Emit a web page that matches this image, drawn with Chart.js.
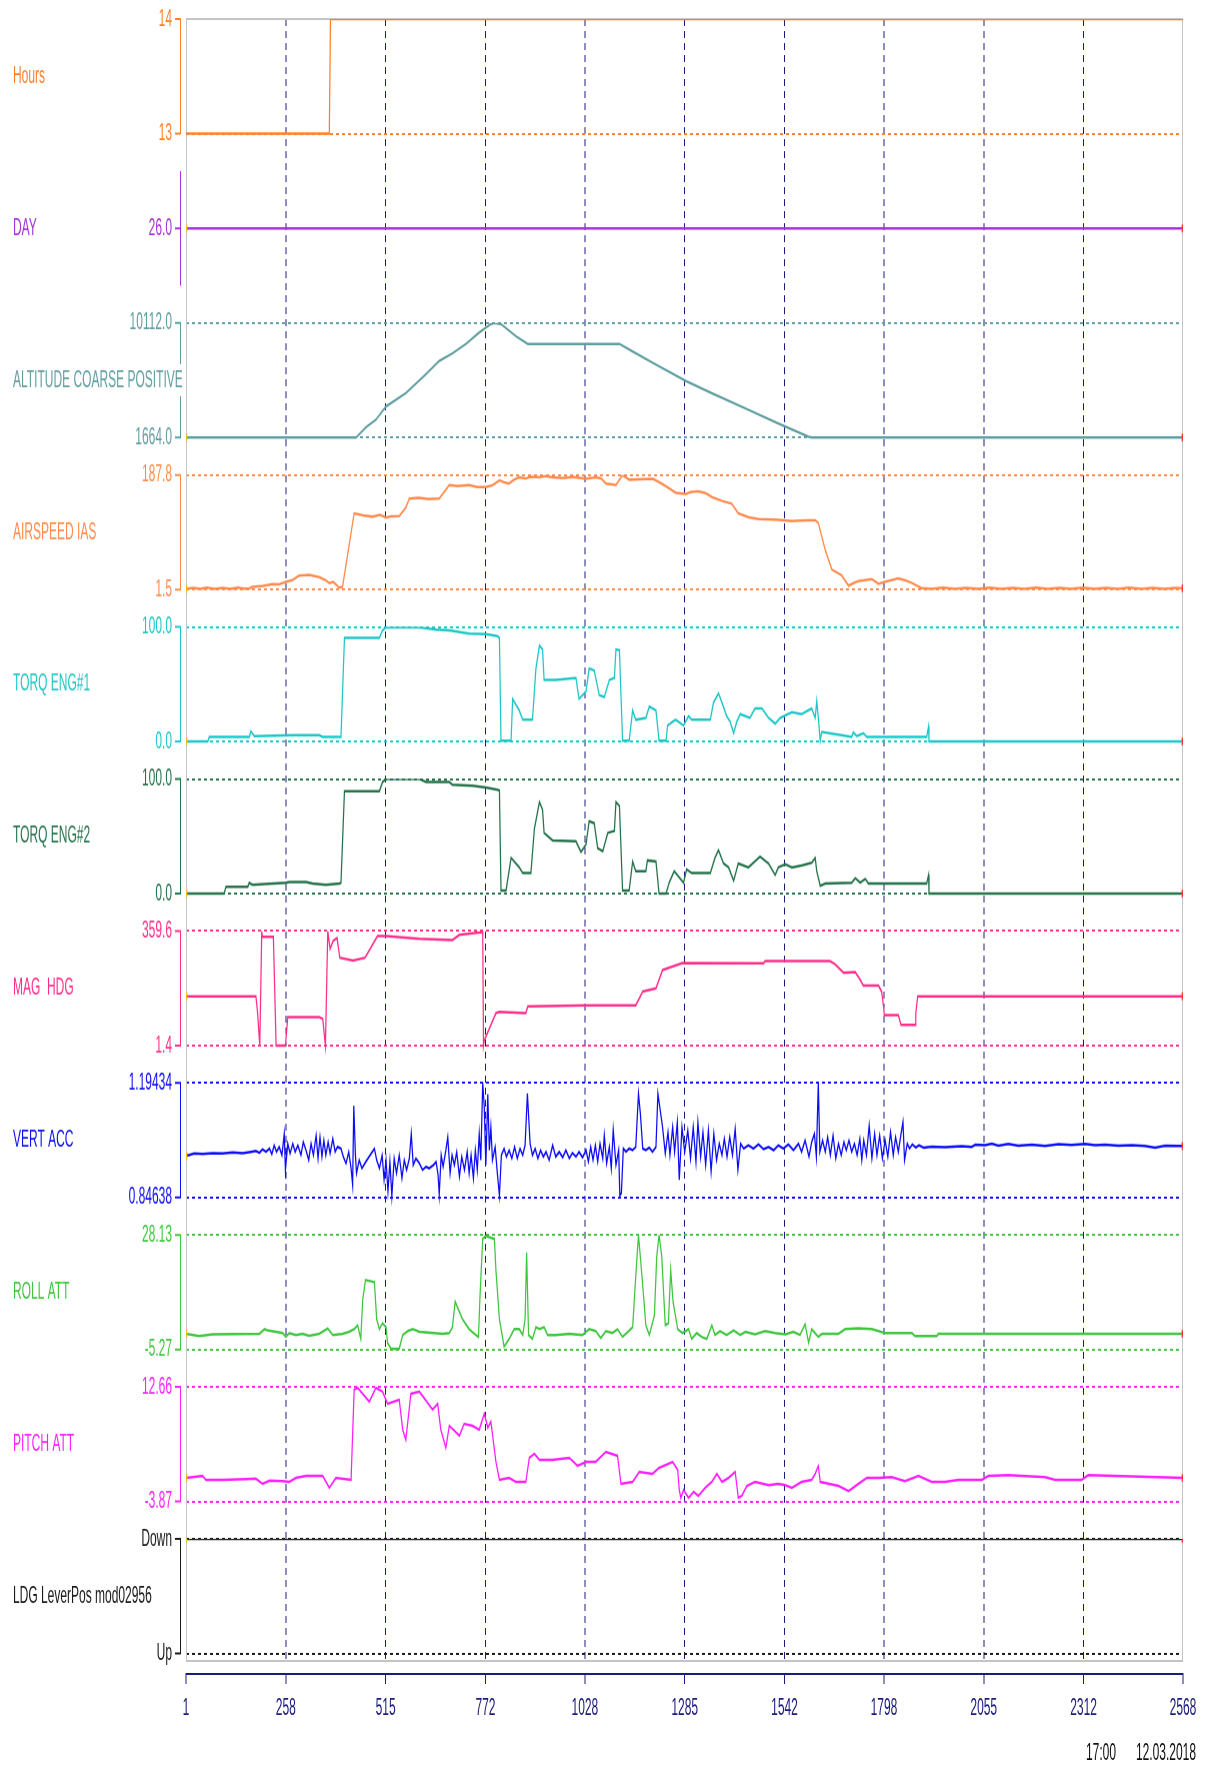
<!DOCTYPE html>
<html>
<head>
<meta charset="utf-8">
<title>Flight data</title>
<script src="https://cdn.jsdelivr.net/npm/chart.js@4.4.1/dist/chart.umd.min.js"></script>
<style>
  html, body { margin: 0; padding: 0; background: #fff; }
  body { height: 1765px; }
  /* the source picture is stretched 2x vertically, so is this one */
  #wrap { width: 1212px; height: 882.5px; transform: scaleY(2); transform-origin: 0 0; }
</style>
</head>
<body>
<div id="wrap"><canvas id="flightChart"></canvas></div>
<script>
// sample index axis
const xTickValues = [1, 258, 515, 772, 1028, 1285, 1542, 1798, 2055, 2312, 2568];

// panels, top to bottom
const seriesNames = ["Hours", "DAY", "ALTITUDE COARSE POSITIVE", "AIRSPEED IAS", "TORQ ENG#1", "TORQ ENG#2",
  "MAG  HDG", "VERT ACC", "ROLL ATT", "PITCH ATT", "LDG LeverPos mod02956"];
const seriesColors = ["#ff7f27", "#a333d6", "#5f9ea0", "#ff8a4c", "#1fc6c6", "#23724a",
  "#ff2d8a", "#0c0cf5", "#3ec63e", "#fb1ffb", "#1a1a1a"];
const tickValues = [[13, 14], [26], [1664, 10112], [1.5, 187.8], [0, 100], [0, 100],
  [1.4, 359.6], [0.84638, 1.19434], [-5.27, 28.13], [-3.87, 12.66], [0, 1]];
const tickLabels = [["13", "14"], ["26.0"], ["1664.0", "10112.0"], ["1.5", "187.8"], ["0.0", "100.0"], ["0.0", "100.0"],
  ["1.4", "359.6"], ["0.84638", "1.19434"], ["-5.27", "28.13"], ["-3.87", "12.66"], ["Up", "Down"]];
// value at top / bottom of each panel bracket
const panelTop = [14, 26.5, 10112.0, 187.8, 100, 100, 359.6, 1.19434, 28.13, 12.66, 1];
const panelBottom = [13, 25.5, 1664.0, 1.5, 0, 0, 1.4, 0.84638, -5.27, -3.87, 0];

// series as [sample, value]
const hours = [[1, 13], [370, 13], [373, 14], [2568, 14]];
const day = [[1, 26], [2568, 26]];
const altitude = [[1, 1664], [439, 1664], [464, 2419], [490, 2979], [516, 3958], [567, 4937], [619, 6335],
  [653, 7314], [687, 7873], [722, 8573], [756, 9412], [786, 10028], [795, 10112], [812, 10028], [851, 9132],
  [881, 8573], [1117, 8573], [1151, 8013], [1203, 7174], [1288, 5832], [1355, 4937], [1441, 3818],
  [1526, 2699], [1604, 1720], [1612, 1664], [2568, 1664]];
const airspeed = [[1, 2.8], [20, 4.2], [38, 2.6], [55, 4.6], [75, 2.5], [95, 4.4], [115, 2.7], [135, 4.8],
  [150, 2.9], [164, 3.5], [172, 5.9], [200, 7.5], [223, 10.3], [240, 9.8], [258, 14.1], [275, 17], [292, 24.2],
  [318, 25.4], [344, 21.6], [360, 17], [370, 12.2], [380, 14], [390, 8], [395, 4.6], [404, 5.9], [434, 125.5],
  [445, 124], [456, 122.3], [480, 120], [500, 123], [516, 118.6], [530, 120.5], [550, 121.1], [567, 134.9],
  [576, 149.4], [600, 150.5], [625, 148.5], [653, 149.4], [679, 171.4], [700, 170], [730, 171.5], [750, 168.3],
  [773, 168.3], [790, 171], [808, 179], [820, 176], [833, 174], [845, 180], [859, 184], [875, 182], [890, 185],
  [911, 184], [925, 186], [945, 184], [970, 183], [1000, 184.5], [1031, 181.5], [1056, 184], [1070, 182],
  [1082, 174], [1108, 171.4], [1125, 187.8], [1142, 180.2], [1170, 181], [1203, 181.5], [1220, 176],
  [1237, 169.5], [1262, 158.9], [1288, 157], [1300, 160], [1320, 161.4], [1340, 158], [1355, 151.9],
  [1381, 145.6], [1406, 141.2], [1423, 125.5], [1450, 119], [1475, 116], [1526, 114.8], [1560, 113],
  [1600, 114], [1621, 114.2], [1629, 109.8], [1647, 65.7], [1664, 34.2], [1689, 24.8], [1707, 7.8], [1720, 12],
  [1732, 15.3], [1767, 18.5], [1784, 10.9], [1800, 14], [1835, 19.8], [1855, 16], [1870, 12.2], [1895, 4],
  [1920, 2.5], [1950, 4.5], [1980, 2.6], [2010, 4.4], [2040, 2.5], [2070, 4.6], [2100, 2.7], [2130, 4.3],
  [2160, 2.5], [2190, 4.5], [2220, 2.8], [2250, 4.4], [2280, 2.6], [2310, 4.6], [2340, 2.7], [2370, 4.3],
  [2400, 2.5], [2430, 4.5], [2460, 2.7], [2490, 4.4], [2520, 2.6], [2550, 4.2], [2568, 3.5]];
const torq1 = [[1, 0], [57, 0], [61, 4], [164, 4], [168, 9], [177, 4.7], [276, 5.6], [344, 5.6], [353, 4],
  [400, 4], [409, 90.4], [499, 90.4], [507, 97], [516, 99.7], [602, 99.7], [645, 97.7], [679, 97], [730, 94.3],
  [773, 93.7], [803, 92], [808, 90.4], [812, 0.7], [838, 0.7], [842, 37.2], [859, 27.2], [868, 19], [893, 19],
  [902, 63.8], [911, 83.7], [919, 80.4], [923, 53.8], [953, 53.8], [1005, 55.5], [1013, 37.2], [1031, 43.9],
  [1039, 63.8], [1052, 62.1], [1065, 40.5], [1078, 38.9], [1091, 53.8], [1104, 55.5], [1108, 80.4],
  [1117, 79.7], [1125, 0.7], [1142, 0.7], [1151, 27.2], [1159, 19], [1185, 20.6], [1194, 30.6], [1211, 27.2],
  [1219, 0.7], [1237, 0.7], [1241, 14], [1254, 17.3], [1262, 19], [1282, 14], [1295, 22.3], [1303, 19],
  [1351, 19], [1359, 33.9], [1372, 42.2], [1381, 33.9], [1393, 22.3], [1402, 17.3], [1411, 7.3], [1419, 17.3],
  [1428, 23.9], [1453, 20.6], [1466, 28.9], [1484, 28.9], [1501, 20.6], [1518, 15.6], [1531, 20.6],
  [1561, 25.6], [1586, 23.9], [1612, 28.9], [1621, 20.6], [1625, 35.5], [1629, 20.6], [1634, 0.7], [1638, 8.3],
  [1689, 5.6], [1715, 4], [1719, 8], [1728, 4.7], [1745, 7.3], [1754, 4], [1908, 4], [1913, 13.3], [1914, 0],
  [2568, 0]];
const torq2 = [[1, 0], [99, 0], [104, 6], [160, 6], [164, 9.4], [172, 7.7], [258, 9.4], [267, 10.1],
  [310, 10.1], [327, 8.7], [361, 7.7], [396, 8.7], [400, 9.4], [409, 89.3], [499, 89.3], [507, 97.3], [516, 100],
  [602, 100], [619, 97.3], [679, 97.3], [687, 95], [739, 94], [773, 92.6], [803, 90.6], [808, 90], [812, 2.7],
  [825, 2.7], [838, 31.2], [859, 22.8], [868, 17.8], [889, 17.8], [898, 56.4], [911, 79.9], [919, 73.2],
  [923, 53], [945, 46.3], [1005, 45.6], [1018, 36.2], [1031, 42.9], [1039, 63.1], [1052, 61.4], [1061, 39.6],
  [1074, 36.9], [1087, 53], [1104, 54.7], [1108, 79.9], [1117, 76.5], [1125, 2.7], [1142, 2.7], [1151, 27.9],
  [1159, 19.5], [1185, 19.5], [1189, 28.9], [1211, 27.9], [1219, 0], [1237, 0], [1245, 9.4], [1258, 19.5],
  [1282, 9.4], [1290, 21.1], [1303, 17.8], [1351, 17.8], [1363, 31.2], [1372, 37.9], [1385, 26.2], [1398, 22.8],
  [1411, 11.1], [1423, 26.2], [1449, 22.8], [1479, 32.2], [1501, 26.2], [1518, 16.1], [1526, 22.8],
  [1544, 25.5], [1561, 22.8], [1586, 24.5], [1612, 26.8], [1621, 31.2], [1625, 19.5], [1634, 6.7], [1647, 8.7],
  [1715, 9.4], [1724, 13.4], [1737, 9.4], [1750, 12.8], [1758, 8.7], [1908, 8.7], [1913, 16.1], [1914, 0],
  [2568, 0]];
const magHdg = [[1, 155.4], [181, 155.4], [185, 109], [191, 1.4], [196, 356], [198, 341.3], [226, 341.3],
  [233, 1.4], [257, 1.4], [263, 90.6], [344, 90.6], [353, 84.5], [360, 1.4], [366, 359.6], [372, 304],
  [380, 328.7], [390, 338], [397, 276], [431, 267], [462, 276], [494, 343.7], [516, 343.7], [602, 335.1],
  [687, 331.5], [705, 347.4], [765, 356], [767, 1.4], [769, 17.3], [799, 102.9], [808, 106.5], [876, 102.9],
  [881, 123.7], [1031, 127.3], [1159, 127.3], [1177, 170.1], [1211, 179.9], [1228, 237.3], [1279, 259.4],
  [1488, 258.1], [1492, 265.5], [1659, 265.5], [1672, 255.7], [1694, 228.8], [1724, 231.3], [1737, 206.8],
  [1745, 188.4], [1784, 188.4], [1792, 170.1], [1797, 124.1], [1799, 96.8], [1835, 96.8], [1842, 66.2],
  [1878, 66.2], [1880, 102.9], [1885, 155.4], [2568, 155.4]];
const vertAcc = [[1, 0.973], [10, 0.976], [22, 0.980], [44, 0.979], [70, 0.981], [95, 0.980], [121, 0.983],
  [147, 0.981], [168, 0.985], [181, 0.988], [190, 0.982], [198, 0.993], [207, 0.985], [216, 0.995], [222, 0.978],
  [228, 1.005], [234, 0.985], [241, 1.000], [248, 0.975], [254, 1.040], [257, 0.930], [263, 1.010], [269, 0.980],
  [276, 1.010], [282, 0.985], [289, 1.005], [297, 0.975], [303, 1.015], [310, 0.990], [317, 0.960], [323, 1.010],
  [329, 0.975], [336, 1.035], [341, 0.965], [346, 1.030], [351, 0.970], [356, 1.020], [361, 0.975], [367, 1.015],
  [372, 0.980], [379, 1.025], [385, 0.985], [391, 1.000], [400, 0.995], [406, 0.970], [413, 0.950], [420, 0.985],
  [426, 0.935], [430, 0.885], [433, 1.125], [437, 0.980], [440, 0.920], [447, 0.960], [454, 0.935], [464, 0.955],
  [475, 0.975], [486, 0.995], [492, 0.960], [499, 0.935], [506, 0.975], [511, 0.900], [516, 0.960], [521, 0.865],
  [526, 0.955], [531, 0.850], [537, 0.965], [543, 0.920], [550, 0.975], [557, 0.905], [563, 0.960], [569, 0.930],
  [576, 0.965], [581, 1.040], [586, 0.945], [593, 0.965], [602, 0.950], [610, 0.930], [619, 0.940], [627, 0.935],
  [638, 0.945], [645, 0.955], [650, 0.915], [653, 0.855], [658, 0.975], [663, 0.940], [670, 0.990], [675, 1.030],
  [681, 0.920], [686, 0.975], [692, 0.945], [698, 0.985], [705, 0.910], [711, 0.970], [718, 0.930], [725, 0.985],
  [730, 0.920], [735, 0.975], [741, 0.905], [746, 0.990], [751, 0.930], [756, 1.040], [760, 0.960], [765, 1.194],
  [769, 1.120], [773, 0.945], [778, 1.160], [782, 0.990], [786, 1.060], [790, 0.960], [797, 1.000], [803, 0.915],
  [808, 0.852], [813, 0.975], [820, 0.995], [826, 0.970], [833, 0.990], [840, 0.965], [847, 1.000], [854, 0.965],
  [861, 0.995], [868, 0.975], [874, 1.005], [880, 1.162], [887, 1.010], [893, 0.975], [900, 0.995], [907, 0.965],
  [914, 0.990], [921, 0.970], [928, 0.985], [936, 0.960], [945, 1.005], [953, 0.970], [962, 0.985], [971, 0.968],
  [979, 0.990], [988, 0.965], [996, 0.982], [1005, 0.970], [1013, 0.985], [1022, 0.968], [1031, 0.990],
  [1037, 0.955], [1043, 1.000], [1049, 0.960], [1055, 1.005], [1061, 0.955], [1067, 1.010], [1074, 0.965],
  [1078, 1.035], [1084, 0.950], [1091, 1.000], [1096, 0.935], [1101, 1.052], [1108, 0.945], [1115, 0.990],
  [1118, 0.852], [1122, 0.860], [1127, 0.995], [1134, 0.985], [1142, 0.995], [1151, 0.990], [1159, 1.000],
  [1166, 1.162], [1171, 1.100], [1177, 0.995], [1185, 0.990], [1194, 0.998], [1202, 0.985], [1211, 1.000],
  [1216, 1.162], [1221, 1.120], [1228, 1.060], [1235, 0.980], [1242, 1.045], [1247, 0.975], [1254, 1.060],
  [1259, 0.985], [1266, 1.075], [1271, 0.900], [1278, 1.060], [1285, 0.985], [1293, 1.050], [1300, 0.965],
  [1307, 1.060], [1314, 0.955], [1319, 1.075], [1326, 0.970], [1332, 1.045], [1339, 0.945], [1346, 1.050],
  [1353, 0.925], [1360, 1.040], [1367, 0.960], [1374, 1.010], [1381, 0.975], [1387, 1.025], [1394, 0.970],
  [1401, 1.030], [1408, 0.975], [1415, 1.055], [1422, 0.930], [1429, 1.010], [1437, 0.995], [1449, 1.005],
  [1462, 0.995], [1475, 1.008], [1488, 0.993], [1501, 1.000], [1514, 0.990], [1526, 1.005], [1539, 0.995],
  [1552, 1.008], [1565, 0.990], [1578, 1.010], [1586, 0.985], [1595, 1.020], [1605, 0.970], [1612, 1.015],
  [1619, 1.040], [1624, 0.970], [1629, 1.194], [1633, 0.985], [1640, 1.020], [1647, 0.985], [1653, 1.030],
  [1660, 0.975], [1667, 1.035], [1674, 0.965], [1681, 1.010], [1688, 0.975], [1695, 1.015], [1701, 0.990],
  [1708, 1.020], [1715, 0.985], [1722, 1.010], [1729, 0.975], [1736, 1.025], [1741, 0.960], [1746, 1.020],
  [1753, 0.975], [1760, 1.065], [1767, 0.965], [1774, 1.040], [1780, 0.975], [1787, 1.035], [1794, 0.965],
  [1801, 1.020], [1808, 0.970], [1815, 1.045], [1822, 0.975], [1828, 1.030], [1835, 0.985], [1842, 1.040],
  [1847, 1.076], [1851, 0.960], [1858, 1.010], [1864, 0.995], [1871, 1.008], [1880, 0.998], [1888, 1.005],
  [1900, 0.998], [1921, 1.001], [1955, 0.999], [1998, 1.002], [2024, 1.000], [2033, 1.007], [2058, 1.005],
  [2076, 1.010], [2093, 1.004], [2118, 1.009], [2144, 1.004], [2179, 1.007], [2213, 1.003], [2247, 1.008],
  [2281, 1.006], [2316, 1.009], [2342, 1.005], [2367, 1.007], [2402, 1.004], [2436, 1.005], [2470, 1.003],
  [2496, 0.998], [2522, 1.004], [2556, 1.003], [2568, 1.003]];
const rollAtt = [[1, -0.69], [35, -1.38], [70, -0.81], [190, -0.69], [203, 0.68], [211, 0.33], [250, -0.47],
  [258, -1.61], [267, -0.47], [284, -1.04], [301, -0.69], [318, -1.27], [344, -0.69], [366, 0.91], [379, -1.04],
  [404, -0.69], [421, -0.12], [434, 0.68], [443, 1.82], [451, -2.18], [456, 9.26], [463, 14.97], [486, 14.4],
  [492, 3.54], [499, 0.68], [507, 2.39], [516, 1.25], [520, -3.33], [529, -5.04], [550, -5.04], [559, -1.04],
  [572, 0.11], [585, 0.68], [602, -0.12], [662, -0.69], [679, -0.47], [687, 1.25], [694, 8.68], [713, 3.54],
  [730, 0.68], [747, -1.04], [754, -1.61], [758, 10.4], [765, 26.98], [773, 27.8], [795, 26.98], [799, 17.83],
  [808, 3.54], [820, -4.47], [833, -2.18], [846, 0.68], [859, 0.68], [868, -1.04], [874, 3.54], [878, 22.98],
  [883, -1.04], [893, -2.18], [902, 1.25], [911, 0.68], [923, 1.25], [932, -1.04], [953, -1.04], [988, -0.69],
  [1022, -1.04], [1039, 0.68], [1056, 0.11], [1069, -1.95], [1082, 0.11], [1099, -0.47], [1112, 0.68],
  [1125, -1.61], [1151, 1.25], [1159, 16.12], [1166, 28.13], [1175, 16.12], [1185, 1.82], [1194, -1.04],
  [1207, 4.68], [1213, 21.84], [1219, 28.13], [1226, 21.84], [1230, 12.69], [1235, 1.82], [1243, 2.39],
  [1249, 17.83], [1255, 8.68], [1261, 4.68], [1267, 0.68], [1279, -0.47], [1288, 0.11], [1295, 0.68],
  [1303, -2.18], [1316, -0.47], [1329, -1.61], [1342, -2.18], [1355, 1.82], [1363, -1.04], [1376, 0.11],
  [1393, -1.04], [1411, 0.33], [1428, -1.04], [1441, -0.12], [1466, -0.81], [1492, 0.11], [1518, -0.47],
  [1544, -0.81], [1565, -0.12], [1582, -1.04], [1595, 2.16], [1604, -3.33], [1612, 0.68], [1629, -1.61],
  [1638, -0.69], [1681, -0.69], [1698, 0.68], [1732, 0.91], [1767, 0.68], [1784, 0.11], [1801, -0.47],
  [1870, -0.47], [1878, -1.38], [1934, -1.38], [1938, -0.69], [2568, -0.69]];
const pitchAtt = [[1, -0.46], [44, -0.17], [52, -0.75], [95, -0.75], [155, -0.63], [181, -0.58], [198, -1.33],
  [216, -0.86], [250, -0.92], [267, -1.04], [284, -0.46], [310, -0.17], [353, -0.17], [370, -1.9], [387, -0.46],
  [426, -0.75], [434, 12.26], [443, 12.54], [473, 10.52], [490, 12.54], [507, 11.97], [520, 10.23], [550, 10.81],
  [559, 6.48], [567, 5.03], [580, 11.68], [602, 11.97], [636, 9.37], [649, 10.23], [657, 6.48], [670, 3.88],
  [679, 7.05], [705, 5.61], [717, 7.34], [739, 7.05], [756, 6.48], [769, 8.79], [778, 6.77], [786, 7.63],
  [799, 1.85], [808, -0.75], [833, -0.46], [850, -1.04], [876, -1.04], [885, 2.43], [898, 3.01], [911, 2.14],
  [945, 2.14], [988, 2.43], [1009, 1.27], [1031, 1.85], [1056, 1.85], [1082, 3.3], [1112, 2.72], [1121, -1.33],
  [1151, -1.04], [1168, 0.41], [1202, 0.12], [1219, 0.99], [1254, 1.85], [1267, 0.7], [1271, -2.19],
  [1275, -3.35], [1282, -2.19], [1295, -3.35], [1308, -2.48], [1320, -3.06], [1338, -1.9], [1355, -1.04],
  [1368, 0.12], [1381, -1.04], [1398, -0.46], [1415, 0.41], [1423, -3.35], [1432, -3.06], [1445, -1.62],
  [1466, -1.04], [1501, -1.5], [1526, -1.33], [1544, -1.5], [1561, -1.9], [1586, -1.04], [1612, -0.75],
  [1621, 0.12], [1629, 1.27], [1634, -1.04], [1681, -1.62], [1707, -2.37], [1732, -1.33], [1754, -0.46],
  [1784, -0.46], [1818, -0.34], [1852, -0.92], [1887, -0.17], [1921, -1.04], [1955, -1.04], [1990, -0.75],
  [2050, -0.75], [2067, -0.17], [2118, -0.06], [2213, -0.34], [2239, -0.75], [2307, -0.75], [2324, -0.06],
  [2568, -0.46]];
const ldgLever = [[1, 1], [2568, 1]];

const seriesData = [hours, day, altitude, airspeed, torq1, torq2, magHdg, vertAcc, rollAtt, pitchAtt, ldgLever];

// layout (canvas px before the 2x vertical stretch)
const bandH = 75.95;     // height of one panel slot
const lastBandH = 61;    // the bottom panel is cut by the frame
const spanH = 57.25;     // distance top tick -> bottom tick
const axisW = 186;       // left margin with names and ticks
const bracketX = 180.5;
const navy = "#1c1c7c";

Chart.defaults.font.family = "'Liberation Sans', Arial, sans-serif";
Chart.defaults.font.size = 12;

const scales = {
  x: {
    type: "linear", position: "bottom", weight: 0, min: 1, max: 2568, bounds: "data",
    afterBuildTicks: (s) => { s.ticks = xTickValues.slice(1, -1).map((v) => ({ value: v })); },
    afterFit: (s) => { s.height = 6.5; s.paddingLeft = 0; s.paddingRight = 0; },
    ticks: { display: false },
    grid: { color: navy, lineWidth: 1, drawTicks: false },
    border: { display: false, dash: [3.5, 2.5] },
  },
  x2: {
    type: "linear", position: "bottom", weight: 1, min: 1, max: 2568, bounds: "data",
    afterBuildTicks: (s) => { s.ticks = xTickValues.map((v) => ({ value: v })); },
    afterFit: (s) => { s.height = 46; s.paddingLeft = 0; s.paddingRight = 0; },
    ticks: { autoSkip: false, maxRotation: 0, padding: 5, color: navy, callback: (v) => String(v) },
    grid: { drawOnChartArea: false, drawTicks: true, tickLength: 5, tickColor: navy, color: navy },
    border: { display: true, color: navy, width: 1 },
  },
};

seriesNames.forEach((name, p) => {
  const band = p === seriesNames.length - 1 ? lastBandH : bandH;
  const top = panelTop[p];
  const bottom = panelBottom[p];
  scales["y" + p] = {
    type: "linear",
    position: "left",
    stack: "panels",
    stackWeight: band,
    weight: 20 - p,
    max: top,
    min: top - ((top - bottom) * band) / spanH,
    bounds: "data",
    afterBuildTicks: (s) => { s.ticks = tickValues[p].map((v) => ({ value: v })); },
    afterFit: (s) => { s.width = axisW; s.paddingTop = 0; s.paddingBottom = 0; },
    ticks: { autoSkip: false, padding: 14, color: seriesColors[p], callback: (v, i) => tickLabels[p][i] },
    grid: { color: seriesColors[p], lineWidth: 1, drawTicks: false },
    border: { display: false, dash: [3, 3] },
  };
});

// small start (yellow) and end (red) arrows, as in the recorder view
const isEnd = (c, rows) => c.dataIndex === 0 || c.dataIndex === rows.length - 1;

const datasets = seriesData.map((rows, p) => ({
  label: seriesNames[p],
  data: rows.map((r) => ({ x: r[0], y: r[1] })),
  xAxisID: "x",
  yAxisID: "y" + p,
  borderColor: seriesColors[p],
  borderWidth: 1.25,
  tension: 0,
  fill: false,
  pointStyle: "triangle",
  pointRadius: (c) => (p > 0 && isEnd(c, rows) ? 2.6 : 0),
  pointRotation: (c) => (c.dataIndex === 0 ? -90 : 90),
  pointBackgroundColor: (c) => (c.dataIndex === 0 ? "#f2c200" : "#ff2a2a"),
  pointBorderWidth: 0,
}));

// frame, panel brackets, names and the time stamp
const decorPlugin = {
  id: "decor",
  beforeDatasetsDraw(chart) {
    const { ctx, chartArea: a } = chart;
    ctx.save();
    ctx.strokeStyle = "#c4c4c4";
    ctx.lineWidth = 1;
    ctx.strokeRect(a.left + 0.5, a.top, a.width - 1, a.height);
    ctx.restore();
  },
  afterDraw(chart) {
    const ctx = chart.ctx;
    ctx.save();
    seriesNames.forEach((name, p) => {
      const s = chart.scales["y" + p];
      const vals = tickValues[p];
      let y1, y2;
      if (vals.length > 1) {
        y1 = s.getPixelForValue(Math.max(...vals));
        y2 = s.getPixelForValue(Math.min(...vals));
      } else {
        const c = s.getPixelForValue(vals[0]);
        y1 = s.top;
        y2 = 2 * c - s.top;
      }
      ctx.strokeStyle = seriesColors[p];
      ctx.lineWidth = 1;
      ctx.beginPath();
      ctx.moveTo(bracketX, y1);
      ctx.lineTo(bracketX, y2);
      vals.forEach((v) => {
        const y = s.getPixelForValue(v);
        ctx.moveTo(175, y);
        ctx.lineTo(bracketX + 0.5, y);
      });
      ctx.stroke();

      ctx.font = "12px 'Liberation Sans', Arial, sans-serif";
      ctx.textAlign = "left";
      ctx.textBaseline = "middle";
      const ym = (y1 + y2) / 2;
      const w = ctx.measureText(name).width;
      ctx.fillStyle = "#fff";
      ctx.fillRect(11, ym - 8, w + 4, 16);
      ctx.fillStyle = seriesColors[p];
      ctx.fillText(name, 13, ym);
    });
    ctx.fillStyle = "#111";
    ctx.textAlign = "right";
    ctx.fillText("12.03.2018", 1196, 876);
    ctx.fillText("17:00", 1116, 876);
    ctx.restore();
  },
};

new Chart(document.getElementById("flightChart"), {
  type: "line",
  data: { datasets },
  options: {
    animation: false,
    responsive: true,
    maintainAspectRatio: false,
    devicePixelRatio: 2,
    events: [],
    layout: { padding: { top: 9.5, left: 0, right: 29, bottom: 0 } },
    plugins: { legend: { display: false }, tooltip: { enabled: false } },
    scales,
  },
  plugins: [decorPlugin],
});
</script>
</body>
</html>
